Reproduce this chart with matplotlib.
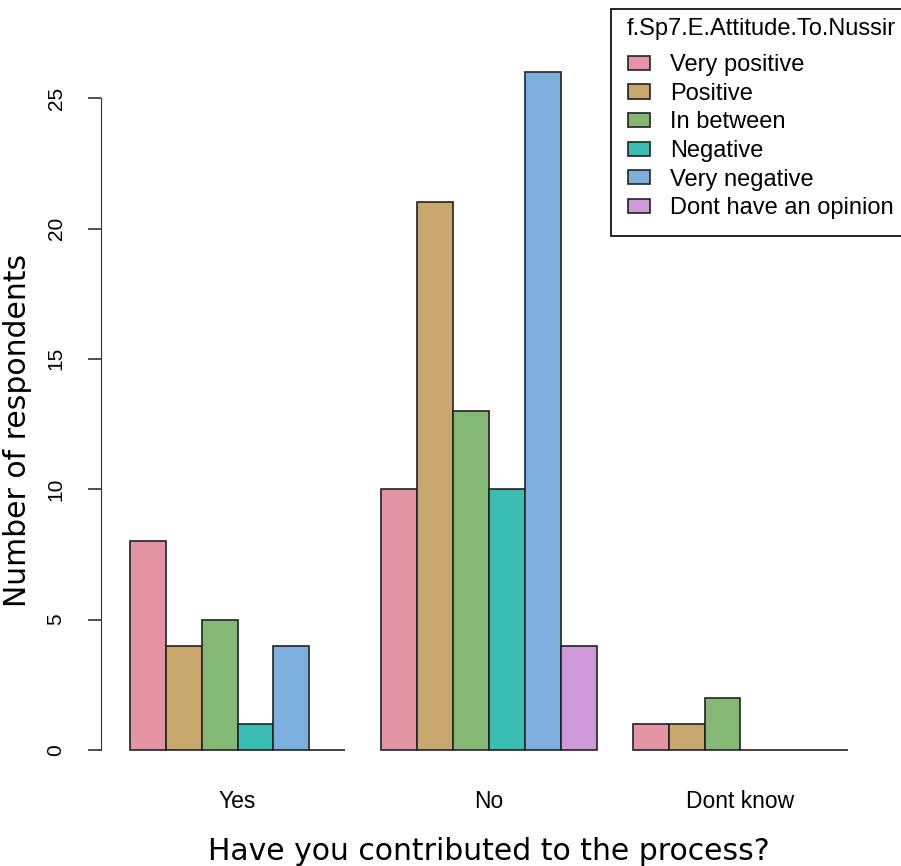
import numpy as np
import matplotlib.pyplot as plt
from matplotlib.patches import Patch

groups = ['Yes', 'No', 'Dont know']
attitudes = ['Very positive', 'Positive', 'In between', 'Negative',
             'Very negative', 'Dont have an opinion']
yes_vals = [8, 4, 5, 1, 4, 0]
no_vals = [10, 21, 13, 10, 26, 4]
dk_vals = [1, 1, 2, 0, 0, 0]
colors = ['#E495A5', '#C7A76C', '#86B875', '#39BEB1', '#7DB0DD', '#CD99D8']

counts = np.array([yes_vals, no_vals, dk_vals])

fig = plt.figure(figsize=(9.01, 8.66), dpi=100)
ax = fig.add_axes([101/901, 1-777/866, (877-101)/901, (777-45)/866])

# R style barplot(beside=TRUE): one bar-width gap before each group
nbar = len(attitudes)
for g in range(len(groups)):
    left = g*(nbar+1) + 1
    for i in range(nbar):
        ax.bar(left + i, counts[g, i], width=1, align='edge',
               color=colors[i], edgecolor='#222222', linewidth=1.2)

ax.set_xlim(0.2, 21.8)
ax.set_ylim(-1.04, 27.04)
for s in ax.spines.values():
    s.set_visible(False)
ax.spines['left'].set_visible(True)
ax.spines['left'].set_bounds(0, 25)
ax.spines['left'].set_color('#333333')

ax.set_yticks([0, 5, 10, 15, 20, 25])
ax.set_yticklabels(['0', '5', '10', '15', '20', '25'], rotation=90, va='center',
                   fontsize=15, family='Liberation Sans')
ax.tick_params(axis='y', length=9.5, width=1.2, color='#333333', pad=16)

centers = [g*(nbar+1) + 1 + nbar/2 for g in range(len(groups))]
ax.set_xticks(centers)
ax.set_xticklabels(groups, fontsize=16.5, family='Liberation Sans')
ax.tick_params(axis='x', length=0, pad=9)

ax.set_ylabel('Number of respondents', fontsize=21.5, va='center')
ax.yaxis.set_label_coords((18-101)/776, (777-430)/732)
ax.set_xlabel('Have you contributed to the process?', fontsize=21.5, labelpad=18)

handles = [Patch(facecolor=c, edgecolor='#222222', linewidth=1.2) for c in colors]
leg = fig.legend(handles, attitudes, title='f.Sp7.E.Attitude.To.Nussir',
                 loc='upper left', bbox_to_anchor=(611/901, 1-9/866),
                 borderaxespad=0,
                 prop={'family': 'Liberation Sans', 'size': 17},
                 title_fontproperties={'family': 'Liberation Sans', 'size': 17},
                 fancybox=False, framealpha=1, edgecolor='black',
                 handlelength=0.95, handleheight=0.55, handletextpad=0.85,
                 labelspacing=0.28, borderpad=0.4)
leg.get_frame().set_linewidth(1.2)
leg._legend_handle_box.pad = 5.2

fig.savefig('out.png', dpi=100)
